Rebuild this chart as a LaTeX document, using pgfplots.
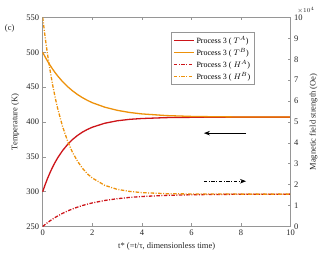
\documentclass[border=0pt]{standalone}
\usepackage{pgfplots}
\pgfplotsset{compat=1.18}
\usepackage{pgfplotstable}
\usepackage{fontspec}
\setmainfont{Liberation Serif}
\usetikzlibrary{arrows.meta}
\definecolor{cred}{RGB}{205,20,25}
\definecolor{corange}{RGB}{237,145,10}
\definecolor{axgray}{RGB}{150,150,150}

\pgfplotstableread{
t    TA    TB    HA     HB
0    300.0 500.0 0.000  10.00
0.1  310.2 493.3 0.098  9.04
0.2  319.4 487.0 0.189  8.20
0.3  327.7 481.3 0.275  7.45
0.4  335.3 475.9 0.355  6.78
0.5  342.1 470.9 0.430  6.19
0.6  348.3 466.3 0.500  5.66
0.8  358.9 458.0 0.629  4.79
1.0  367.6 450.9 0.741  4.10
1.2  374.8 444.8 0.839  3.55
1.4  380.6 439.5 0.926  3.13
1.6  385.4 435.0 1.002  2.79
1.8  389.3 431.1 1.069  2.52
2.0  392.5 427.7 1.128  2.32
2.5  398.2 421.3 1.245  1.97
3.0  401.7 416.8 1.329  1.78
3.5  403.8 413.7 1.391  1.68
4.0  405.0 411.6 1.435  1.62
5.0  406.3 409.2 1.490  1.57
6.0  406.7 408.0 1.519  1.556
7.0  406.9 407.5 1.534  1.552
8.0  407.0 407.2 1.541  1.550
10.0 407.0 407.1 1.548  1.550
}\data

\tikzset{dd/.style={dash pattern=on 3.5pt off 1.5pt on 1pt off 1.5pt}}
\pgfplotsset{
  common/.style={
    width=248pt, height=209pt, scale only axis,
    at={(0pt,0pt)}, anchor=south west,
    xmin=0, xmax=10,
    font=\fontsize{8.5}{10}\selectfont,
    /pgf/number format/assume math mode=true,
    axis line style={axgray, line width=0.7pt},
    tick style={axgray, line width=0.6pt},
    major tick length=3pt, tick align=inside,
    ticklabel style={font=\fontsize{8.5}{10}\selectfont, text=black!85},
    label style={font=\fontsize{8.5}{10}\selectfont, text=black!85},
  },
}

\begin{document}
\begin{tikzpicture}
\path (-42.7pt,-29.5pt) rectangle (283.3pt,226.5pt);
\begin{axis}[common,
  ymin=250, ymax=550, ytick={250,300,...,550},
  xtick={0,2,...,10},
  ytick pos=left, yticklabel pos=left,
  xtick pos=both, xticklabel pos=lower,
  xlabel={t* (=t/τ, dimensionless time)},
  ylabel={Temperature (K)},
  ylabel style={at={(axis description cs:-0.11,0.5)}, anchor=center},
  clip=false,
]
\addplot[cred, line width=1.3pt] table[x=t,y=TA]{\data};
\addplot[corange, line width=1.3pt] table[x=t,y=TB]{\data};
\draw[-{Stealth[length=6pt,width=4.5pt]}, line width=1pt] (axis cs:8.2,384) -- (axis cs:6.5,384);
\draw[-{Stealth[length=6pt,width=4.5pt]}, line width=1pt, dd] (axis cs:6.5,315) -- (axis cs:8.2,315);
\node[font=\fontsize{8.5}{10}\selectfont, text=black!85] at ([xshift=-33pt,yshift=-11pt]rel axis cs:0,1) {(c)};
\node[font=\fontsize{6.5}{8}\selectfont, text=black!85, anchor=south west, inner sep=0.5pt] at ([xshift=6pt,yshift=3pt]rel axis cs:1,1) {$\times10^4$};
\end{axis}
\begin{axis}[common,
  ymin=0, ymax=10, ytick={0,1,...,10},
  axis x line=none, axis y line*=right,
  ylabel={Magnetic field strength (Oe)},
  legend style={at={(axis description cs:0.517,0.93)}, anchor=north west,
    draw=axgray, line width=0.6pt, fill=white,
    font=\fontsize{8}{9.5}\selectfont, cells={anchor=west},
    row sep=-0.5pt, inner sep=2pt},
  legend image code/.code={\draw[#1] (0pt,0pt) -- (20pt,0pt);},
]
\addlegendimage{cred, line width=1.3pt}
\addlegendentry{Process 3 ( $T^A$)}
\addlegendimage{corange, line width=1.3pt}
\addlegendentry{Process 3 ( $T^B$)}
\addplot[cred, line width=1.3pt, dd] table[x=t,y=HA]{\data};
\addlegendentry{Process 3 ( $H^A$)}
\addplot[corange, line width=1.3pt, dd] table[x=t,y=HB]{\data};
\addlegendentry{Process 3 ( $H^B$)}
\end{axis}
\end{tikzpicture}
\end{document}
